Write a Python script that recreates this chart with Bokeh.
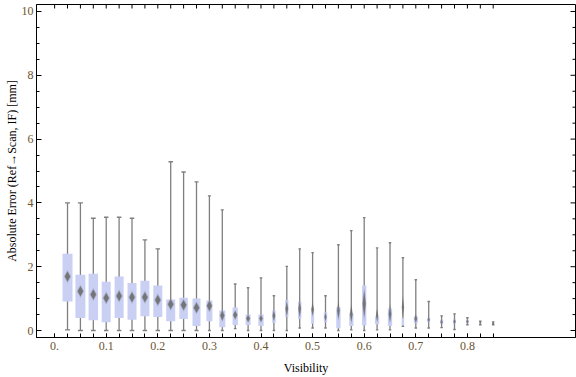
from bokeh.plotting import figure
from bokeh.models import Range1d, FixedTicker, SingleIntervalTicker, ColumnDataSource
from bokeh.embed import file_html
from bokeh.resources import INLINE

# ---------------- data ----------------
visibility = [0.025, 0.05, 0.075, 0.1, 0.125, 0.15, 0.175, 0.2, 0.225, 0.25,
              0.275, 0.3, 0.325, 0.35, 0.375, 0.4, 0.425, 0.45, 0.475, 0.5,
              0.525, 0.55, 0.575, 0.6, 0.625, 0.65, 0.675, 0.7, 0.725, 0.75,
              0.775, 0.8, 0.825, 0.85]
whisker_low = [0.02, 0.0, 0.0, 0.0, 0.0, 0.0, 0.0, 0.0, 0.0, 0.0,
               0.0, 0.0, 0.0, 0.06, 0.0, 0.0, 0.0, 0.0, 0.08, 0.08,
               0.08, 0.0, 0.02, 0.0, 0.02, 0.02, 0.13, 0.08, 0.08, 0.09,
               0.03, 0.18, 0.18, 0.18]
q1 = [0.91, 0.39, 0.32, 0.26, 0.39, 0.34, 0.45, 0.42, 0.29, 0.36,
      0.14, 0.29, 0.10, 0.17, 0.17, 0.14, 0.24, 0.43, 0.36, 0.21,
      0.26, 0.07, 0.14, 0.16, 0.20, 0.14, 0.16, 0.23, 0.26, 0.21,
      0.21, 0.23, 0.21, 0.21]
mean = [1.69, 1.23, 1.13, 1.02, 1.08, 1.04, 1.04, 0.96, 0.82, 0.80,
        0.71, 0.78, 0.47, 0.49, 0.38, 0.38, 0.46, 0.68, 0.68, 0.66,
        0.42, 0.62, 0.52, 0.84, 0.47, 0.52, 0.73, 0.37, 0.34, 0.27,
        0.28, 0.28, 0.24, 0.23]
q3 = [2.41, 1.75, 1.78, 1.53, 1.69, 1.49, 1.56, 1.41, 0.97, 1.03,
      1.00, 0.94, 0.63, 0.72, 0.50, 0.50, 0.63, 0.96, 0.91, 0.62,
      0.57, 0.73, 0.53, 1.41, 0.44, 0.69, 0.39, 0.44, 0.40, 0.34,
      0.35, 0.34, 0.26, 0.25]
whisker_high = [4.00, 4.00, 3.52, 3.55, 3.55, 3.52, 2.84, 2.56, 5.29, 4.97,
                4.66, 4.22, 3.78, 1.46, 1.34, 1.65, 1.09, 2.01, 2.56, 2.44,
                1.09, 2.69, 3.13, 3.54, 2.59, 2.75, 2.28, 1.59, 0.91, 0.46,
                0.52, 0.40, 0.29, 0.27]
x_label_ticks = [0.0, 0.1, 0.2, 0.3, 0.4, 0.5, 0.6, 0.7, 0.8]
x_label_texts = ["0.", "0.1", "0.2", "0.3", "0.4", "0.5", "0.6", "0.7", "0.8"]
y_ticks = [0, 2, 4, 6, 8, 10]

# ---------------- styling (pixel sizes) ----------------
box_w_px = [10, 10, 9.5, 9, 9, 9, 9, 9, 9, 8.5,
            8, 6, 6, 5.3, 5, 5.3, 3.5, 3.3, 3.3, 3,
            3.3, 4.3, 4.3, 4.3, 4.3, 4.3, 2.5, 4, 3, 3.2,
            3, 3, 2, 2]
mean_w_px = [5.5, 5.5, 5.5, 5.5, 5.5, 5.5, 5.5, 5.5, 5.5, 5.5,
             5.5, 5, 4, 4, 3.5, 3, 2.5, 2.5, 2.5, 2.5,
             2, 2.5, 2.5, 3, 2, 2.5, 2, 2.5, 2, 2,
             2, 2, 1.5, 1.5]
mean_h_px = [10, 10, 10, 10, 10, 10, 10, 10, 10, 10,
             10, 10, 10, 8, 7, 7, 10, 14, 16, 12,
             8, 16, 16, 27, 12, 16, 18, 8, 5, 5,
             5, 4, 3, 3]

FONT = "Liberation Serif"
W, H = 576, 377
BL, BR, BT, BB = 36, 1, 4, 40
xr0, xr1 = -0.0351, 1.0095
yr0, yr1 = -0.219, 10.219
fw = W - BL - BR
fh = H - BT - BB
sx = fw / (xr1 - xr0)
sy = fh / (yr1 - yr0)

p = figure(width=W, height=H, x_range=Range1d(xr0, xr1), y_range=Range1d(yr0, yr1),
           output_backend="svg", toolbar_location=None,
           min_border_left=BL, min_border_right=BR, min_border_top=BT, min_border_bottom=BB)
p.grid.visible = False
p.outline_line_color = "black"
p.outline_line_width = 1
p.background_fill_color = "white"
p.border_fill_color = "white"

tick_color = "#6b5330"

xa = p.xaxis[0]
xa.ticker = FixedTicker(ticks=x_label_ticks, minor_ticks=[0.0] + visibility)
xa.major_label_overrides = {t: s for t, s in zip(x_label_ticks, x_label_texts)}
xa.axis_label = "Visibility"
ya = p.yaxis[0]
ya.ticker = SingleIntervalTicker(interval=2, num_minor_ticks=4)
ya.axis_label = "Absolute Error (Ref\u2192Scan, IF) [mm]"

for ax in (xa, ya):
    ax.axis_line_color = "black"
    ax.major_tick_line_color = "black"
    ax.minor_tick_line_color = "black"
    ax.major_tick_out = 0
    ax.minor_tick_out = 0
    ax.major_label_text_font = FONT
    ax.major_label_text_font_size = "12px"
    ax.major_label_text_color = tick_color
    ax.axis_label_text_font = FONT
    ax.axis_label_text_font_size = "12px"
    ax.axis_label_text_font_style = "normal"
    ax.axis_label_text_color = "black"

xa.major_tick_in = 4
xa.minor_tick_in = 4
xa.major_label_standoff = 4
xa.axis_label_standoff = 8
ya.major_tick_in = 5
ya.minor_tick_in = 3
ya.major_label_standoff = 3
ya.axis_label_standoff = 0

# mirrored frame ticks on top and right (no labels)
top_ticks = [0.0] + visibility
p.segment(x0=top_ticks, y0=[yr1] * len(top_ticks), x1=top_ticks,
          y1=[yr1 - 4 / sy] * len(top_ticks), line_color="black", line_width=1)
right_major = y_ticks
right_minor = [v / 2 for v in range(0, 21) if v % 4 != 0]
p.segment(x0=[xr1] * len(right_major), y0=right_major, x1=[xr1 - 5 / sx] * len(right_major),
          y1=right_major, line_color="black", line_width=1)
p.segment(x0=[xr1] * len(right_minor), y0=right_minor, x1=[xr1 - 3 / sx] * len(right_minor),
          y1=right_minor, line_color="black", line_width=1)

# ---------------- marks ----------------
src = ColumnDataSource(dict(
    x=visibility, lo=whisker_low, hi=whisker_high,
    mid=[(a + b) / 2 for a, b in zip(q1, q3)],
    bh=[b - a for a, b in zip(q1, q3)],
    bw=box_w_px,
    cw=[max(2.5, b * 0.5) for b in box_w_px],
))

gray = "#7f7f7f"
p.segment(x0="x", y0="lo", x1="x", y1="hi", source=src, line_color=gray, line_width=1.3)
p.rect(x="x", y="mid", width="bw", height="bh", width_units="screen", source=src,
       fill_color="#c9d0f4", line_color=None)
p.rect(x="x", y="hi", width="cw", height=1.4, width_units="screen", height_units="screen",
       source=src, fill_color=gray, line_color=None)
p.rect(x="x", y="lo", width="cw", height=1.4, width_units="screen", height_units="screen",
       source=src, fill_color=gray, line_color=None)

def diamonds(scale):
    xs, ys = [], []
    for x, m, w, h in zip(visibility, mean, mean_w_px, mean_h_px):
        dx = w * scale / 2 / sx
        dy = h * scale / 2 / sy
        xs.append([x - dx, x, x + dx, x])
        ys.append([m, m + dy, m, m - dy])
    return xs, ys

xs, ys = diamonds(1.35)
p.patches(xs, ys, fill_color="#707070", fill_alpha=0.3, line_color=None)
xs, ys = diamonds(1.0)
p.patches(xs, ys, fill_color="#6a6a6a", fill_alpha=0.85, line_color=None)

open("out.html", "w").write(file_html(p, INLINE))
